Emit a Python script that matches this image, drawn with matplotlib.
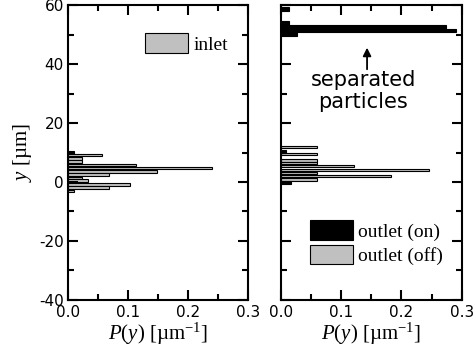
import numpy as np
import matplotlib.pyplot as plt
from matplotlib.ticker import MultipleLocator

plt.rcParams['mathtext.fontset'] = 'custom'
plt.rcParams['mathtext.rm'] = 'Liberation Serif'
plt.rcParams['mathtext.it'] = 'Liberation Serif:italic'
plt.rcParams['axes.unicode_minus'] = False

# inlet distribution
y_in = [9.9, 9.1, 7.9, 7.0, 5.8, 4.7, 3.65, 2.6, 1.4, 0.5, -0.75, -1.9, -3.0]
p_in = [0.010, 0.057, 0.023, 0.023, 0.114, 0.240, 0.148, 0.069, 0.023, 0.034, 0.104, 0.069, 0.010]

# outlet, separation off
y_off = [11.9, 9.5, 7.4, 6.5, 5.4, 4.1, 3.0, 2.05, 0.8]
p_off = [0.060, 0.060, 0.060, 0.060, 0.122, 0.245, 0.060, 0.183, 0.060]

# outlet, separation on
y_on = [10.2, 0.05, 50.2, 51.4, 52.6, 53.9, 58.6]
p_on = [0.009, 0.017, 0.026, 0.290, 0.274, 0.014, 0.013]

gris = '#c0c0c0'
serif = 'Liberation Serif'

fig = plt.figure(figsize=(4.76, 3.64), dpi=100)
ax = fig.add_axes([0.1429, 0.176, 0.378, 0.810])
ax2 = fig.add_axes([0.590, 0.176, 0.380, 0.810])

ax.barh(y_in, p_in, height=0.9, color=gris, edgecolor='k', linewidth=0.8, label='inlet')
ax2.barh(y_on, p_on, height=1.25, color='k', edgecolor='k', linewidth=0.8, label='outlet (on)')
ax2.barh(y_off, p_off, height=0.9, color=gris, edgecolor='k', linewidth=0.8, label='outlet (off)')

for a in (ax, ax2):
    a.set_xlim(0, 0.3)
    a.set_ylim(-40, 60)
    a.xaxis.set_major_locator(MultipleLocator(0.1))
    a.xaxis.set_minor_locator(MultipleLocator(0.05))
    a.yaxis.set_major_locator(MultipleLocator(20))
    a.yaxis.set_minor_locator(MultipleLocator(10))
    a.tick_params(which='both', direction='in', top=True, right=True, width=1.5)
    a.tick_params(which='major', length=7, labelsize=11, pad=3)
    a.tick_params(which='minor', length=4)
    for s in a.spines.values():
        s.set_linewidth(1.5)
    a.xaxis.set_major_formatter(plt.FormatStrFormatter('%.1f'))
    a.tick_params(axis='x', pad=4)
    a.set_xlabel(r'$P$($y$) [µm$^{\mathregular{-1}}$]', family=serif, fontsize=15, labelpad=0)

ax2.tick_params(labelleft=False)
ax.set_ylabel(r'$y$ [µm]', family=serif, fontsize=15, labelpad=4)

ax.legend(loc='upper left', bbox_to_anchor=(0.43, 0.905), frameon=False,
          prop={'family': serif, 'size': 14}, handlelength=2.2, handleheight=1.2,
          handletextpad=0.3, borderpad=0, borderaxespad=0)
ax2.legend(loc='upper left', bbox_to_anchor=(0.16, 0.27), frameon=False,
           prop={'family': serif, 'size': 14}, handlelength=2.2, handleheight=1.15,
           handletextpad=0.3, labelspacing=0.2, borderpad=0, borderaxespad=0)

ax2.annotate('', xy=(0.143, 46.5), xytext=(0.143, 37.3),
             arrowprops=dict(arrowstyle='-|>', color='k', lw=1.3, mutation_scale=12))
ax2.text(0.137, 30.8, 'separated\nparticles', ha='center', va='center',
         fontsize=15, linespacing=1.1)

plt.savefig('out.png', dpi=100)
